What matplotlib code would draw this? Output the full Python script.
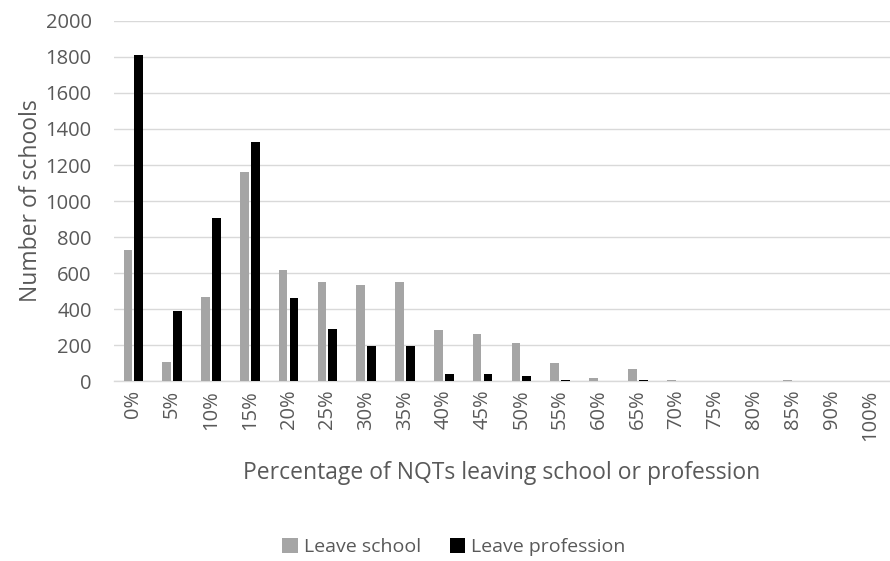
import matplotlib
matplotlib.use("Agg")
import matplotlib.pyplot as plt
import numpy as np

categories = ["0%", "5%", "10%", "15%", "20%", "25%", "30%", "35%", "40%", "45%",
              "50%", "55%", "60%", "65%", "70%", "75%", "80%", "85%", "90%", "100%"]
leave_school = [728, 107, 467, 1159, 620, 552, 537, 554, 287, 261,
                213, 104, 19, 70, 7, 4, 0, 7, 0, 0]
leave_profession = [1812, 391, 904, 1328, 461, 289, 198, 198, 41, 41,
                    31, 7, 0, 7, 0, 0, 0, 0, 0, 0]

plt.rcParams['font.family'] = ['Open Sans', 'DejaVu Sans']
text_color = "#595959"
grid_color = "#D9D9D9"

fig = plt.figure(figsize=(8.9, 5.61), dpi=100)
ax = fig.add_axes([0.128, 0.320, 0.872, 0.643])

x = np.arange(len(categories))
w = 0.225
ax.bar(x - 0.14, leave_school, width=w, color="#A5A5A5", label="Leave school", zorder=3)
ax.bar(x + 0.14, leave_profession, width=w, color="#000000", label="Leave profession", zorder=3)

ax.set_xlim(-0.5, len(categories) - 0.5)
ax.set_ylim(0, 2000)
ax.set_yticks(np.arange(0, 2001, 200))
ax.set_xticks(x)
ax.set_xticklabels(categories, rotation=90)
ax.grid(axis="y", color=grid_color, linewidth=1, zorder=0)
for side in ["top", "right", "left"]:
    ax.spines[side].set_visible(False)
ax.spines["bottom"].set_color(grid_color)
ax.spines["bottom"].set_linewidth(1)
ax.tick_params(axis="both", length=0, labelsize=14.5, colors=text_color)
ax.tick_params(axis="y", pad=16)
ax.tick_params(axis="x", pad=6)

ax.set_ylabel("Number of schools", fontsize=16.5, color=text_color, labelpad=2)
ax.set_xlabel("Percentage of NQTs leaving school or profession", fontsize=16.5,
              color=text_color, labelpad=14)

leg = fig.legend(loc="center", bbox_to_anchor=(0.51, 0.025), ncol=2, frameon=False,
                 fontsize=14, handlelength=0.8, handleheight=0.8, handletextpad=0.3,
                 columnspacing=1.5)
for t in leg.get_texts():
    t.set_color(text_color)

fig.savefig("out.png", dpi=100)
